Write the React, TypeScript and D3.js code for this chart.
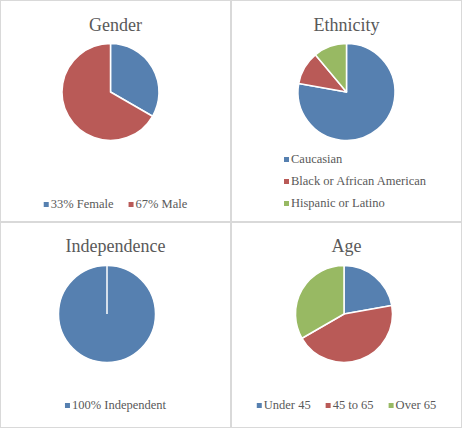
import React from "react";
import * as d3 from "d3";

// chart data
const genderLabels = ["33% Female", "67% Male"];
const genderValues = [1, 2];

const ethnicityLabels = ["Caucasian", "Black or African American", "Hispanic or Latino"];
const ethnicityValues = [7, 1, 1];

const independenceLabels = ["100% Independent"];
const independenceValues = [1];

const ageLabels = ["Under 45", "45 to 65", "Over 65"];
const ageValues = [2, 4, 3];

const colors = ["#5680b0", "#b95a57", "#98b963"];
const textColor = "#595959";
const fontFamily = "Liberation Serif, Tinos, DejaVu Serif, Times New Roman, serif";

const W = 462;
const H = 428;

function textWidth(s: string, size: number) {
  const c = document.createElement("canvas").getContext("2d");
  if (!c) return s.length * size * 0.5;
  c.font = `${size}px ${fontFamily}`;
  return c.measureText(s).width;
}

type PanelProps = {
  title: string;
  labels: string[];
  values: number[];
  x0: number;
  y0: number;
  w: number;
  h: number;
  cx: number;
  cy: number;
  r: number;
  titleY: number;
  legendY: number;
  vertical?: boolean;
  legendX?: number;
};

function PiePanel(p: PanelProps) {
  const pie = d3.pie<number>().sort(null).value((d) => d);
  const arcs = pie(p.values);
  const arc = d3.arc<d3.PieArcDatum<number>>().innerRadius(0).outerRadius(p.r);
  const color = d3.scaleOrdinal<number, string>().domain(d3.range(p.values.length)).range(colors);

  const fs = 12.5;
  const txt = { fontSize: fs, fill: textColor, style: { fontFamily } };
  let legend: React.ReactNode;
  if (p.vertical) {
    const y = d3.scalePoint<number>().domain(d3.range(p.labels.length)).range([0, 44]);
    legend = p.labels.map((l, i) => (
      <g key={l} transform={`translate(${p.legendX},${p.legendY + (y(i) ?? 0)})`}>
        <rect x={0} y={-6} width={5} height={5} fill={color(i)} />
        <text x={7} y={0} {...txt}>{l}</text>
      </g>
    ));
  } else {
    const widths = p.labels.map((l) => 7 + textWidth(l, fs));
    const gap = 15;
    const total = d3.sum(widths) + gap * (widths.length - 1);
    let x = p.x0 + p.w / 2 - total / 2;
    legend = p.labels.map((l, i) => {
      const gx = x;
      x += widths[i] + gap;
      return (
        <g key={l} transform={`translate(${gx},${p.legendY})`}>
          <rect x={0} y={-6} width={5} height={5} fill={color(i)} />
          <text x={7} y={0} {...txt}>{l}</text>
        </g>
      );
    });
  }

  return (
    <g>
      <rect x={p.x0 + 0.5} y={p.y0 + 0.5} width={p.w - 1} height={p.h - 1} fill="#fff" stroke="#d9d9d9" />
      <text x={p.x0 + p.w / 2} y={p.titleY} textAnchor="middle" fontSize={18} fill={textColor} style={{ fontFamily }}>
        {p.title}
      </text>
      <g transform={`translate(${p.cx},${p.cy})`}>
        {arcs.map((a, i) => (
          <path key={i} d={arc(a) ?? ""} fill={color(i)} stroke="#fff" strokeWidth={1.5} strokeLinejoin="round" />
        ))}
        {arcs.length === 1 && (() => {
          const [ex, ey] = d3.pointRadial(arcs[0].startAngle, p.r);
          return <line x1={0} y1={0} x2={ex} y2={ey} stroke="#fff" strokeWidth={1.5} />;
        })()}
      </g>
      {legend}
    </g>
  );
}

export default function App() {
  return (
    <div style={{ position: "absolute", left: 0, top: 0 }}>
      <svg width={W} height={H} style={{ display: "block" }}>
        <rect width={W} height={H} fill="#fff" />
        <PiePanel title="Gender" labels={genderLabels} values={genderValues}
          x0={0} y0={0} w={231} h={222} cx={110.5} cy={92} r={48.5} titleY={31} legendY={208} />
        <PiePanel title="Ethnicity" labels={ethnicityLabels} values={ethnicityValues}
          x0={231} y0={0} w={231} h={222} cx={346.5} cy={92} r={48.5} titleY={31} legendY={163}
          vertical legendX={284} />
        <PiePanel title="Independence" labels={independenceLabels} values={independenceValues}
          x0={0} y0={222} w={231} h={206} cx={107} cy={314} r={48.5} titleY={252} legendY={409} />
        <PiePanel title="Age" labels={ageLabels} values={ageValues}
          x0={231} y0={222} w={231} h={206} cx={344} cy={314} r={48.5} titleY={252} legendY={409} />
      </svg>
    </div>
  );
}
